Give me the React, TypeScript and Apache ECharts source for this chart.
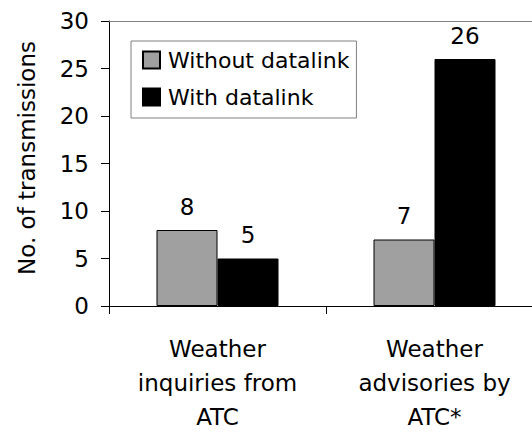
import React, { useEffect, useRef } from "react";
import * as echarts from "echarts";

const categories = ["Weather\ninquiries from\nATC", "Weather\nadvisories by\nATC*"];
const seriesNames = ["Without datalink", "With datalink"];
const withoutDatalink = [8, 7];
const withDatalink = [5, 26];
const yTicks = { min: 0, max: 30, interval: 5 };
const yAxisTitle = "No. of transmissions";

const FONT = "DejaVu Sans, Liberation Sans, Arial, sans-serif";

export default function App() {
  const ref = useRef<HTMLDivElement>(null);
  useEffect(() => {
    if (!ref.current) return;
    const chart = echarts.init(ref.current, null, { renderer: "svg" });
    chart.setOption({
      animation: false,
      backgroundColor: "#ffffff",
      textStyle: { fontFamily: FONT },
      grid: { left: 109, top: 21, bottom: 126, right: 17, containLabel: false },
      legend: {
        orient: "vertical",
        left: 131,
        top: 41,
        padding: [8, 7, 10, 11],
        icon: "rect",
        itemWidth: 17,
        itemHeight: 17,
        itemGap: 15,
        borderColor: "#808080",
        borderWidth: 1,
        backgroundColor: "#ffffff",
        textStyle: { fontSize: 22, color: "#000", fontFamily: FONT, padding: [0, 0, 0, 3] },
        data: seriesNames,
      },
      xAxis: [
        {
          type: "category",
          data: categories,
          position: "bottom",
          axisLine: { lineStyle: { color: "#000", width: 1 } },
          axisTick: { show: true, length: 8, lineStyle: { color: "#000" } },
          axisLabel: {
            fontSize: 23,
            color: "#000",
            fontFamily: FONT,
            lineHeight: 34,
            margin: 26,
            interval: 0,
          },
        },
        {
          type: "category",
          data: categories,
          position: "top",
          axisLine: { lineStyle: { color: "#808080", width: 1 } },
          axisTick: { show: false },
          axisLabel: { show: false },
        },
      ],
      yAxis: {
        type: "value",
        min: yTicks.min,
        max: yTicks.max,
        interval: yTicks.interval,
        axisLine: { show: true, lineStyle: { color: "#000", width: 1 } },
        axisTick: { show: true, length: 8, lineStyle: { color: "#000" } },
        splitLine: { show: false },
        axisLabel: { fontSize: 23, color: "#000", fontFamily: FONT, margin: 20 },
      },
      graphic: [
        {
          type: "text",
          x: 27,
          y: 158,
          rotation: Math.PI / 2,
          style: {
            text: yAxisTitle,
            fontSize: 23,
            fontFamily: FONT,
            fill: "#000",
            textAlign: "center",
            textVerticalAlign: "middle",
          },
        },
      ],
      series: [
        {
          name: seriesNames[0],
          type: "bar",
          xAxisIndex: 0,
          data: withoutDatalink,
          barWidth: 61,
          barGap: "0%",
          itemStyle: { color: "#a0a0a0", borderColor: "#000", borderWidth: 1 },
          label: { show: true, position: "top", distance: 12, fontSize: 23, color: "#000", fontFamily: FONT },
        },
        {
          name: seriesNames[1],
          type: "bar",
          xAxisIndex: 0,
          data: withDatalink,
          barWidth: 61,
          barGap: "0%",
          itemStyle: { color: "#000000", borderColor: "#000", borderWidth: 1 },
          label: { show: true, position: "top", distance: 12, fontSize: 23, color: "#000", fontFamily: FONT },
        },
      ],
    });
    return () => chart.dispose();
  }, []);
  return (
    <div style={{ position: "absolute", left: 0, top: 0, width: 532, height: 434, overflow: "hidden", background: "#fff" }}>
      <div ref={ref} style={{ position: "absolute", left: 0, top: 0, width: 560, height: 434 }} />
    </div>
  );
}
